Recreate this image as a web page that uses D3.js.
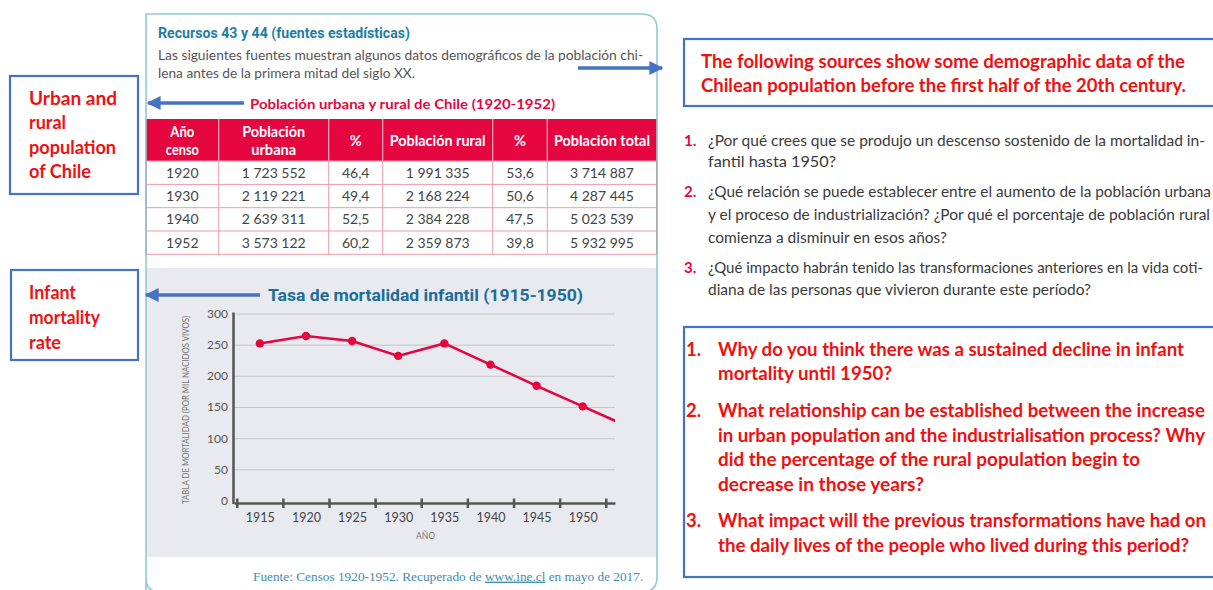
<!DOCTYPE html>
<html>
<head>
<meta charset="utf-8">
<script src="https://cdn.jsdelivr.net/npm/d3@7"></script>
<style>
body { margin: 0; background: #fff; }
svg { display: block; }
</style>
</head>
<body>
<div id="chart"></div>
<script>
// ---- data ----
var censusYears = [1920, 1930, 1940, 1952];
var urbanPop = [1723552, 2119221, 2639311, 3573122];
var urbanPct = [46.4, 49.4, 52.5, 60.2];
var ruralPop = [1991335, 2168224, 2384228, 2359873];
var ruralPct = [53.6, 50.6, 47.5, 39.8];
var totalPop = [3714887, 4287445, 5023539, 5932995];
var tableHeaders = [["Año", "censo"], ["Población", "urbana"], ["%"], ["Población rural"], ["%"], ["Población total"]];

var mortYears = [1915, 1920, 1925, 1930, 1935, 1940, 1945, 1950, 1955];
var mortRate = [252, 264, 256, 232, 252, 218, 184, 151, 118];
var yTicks = [0, 50, 100, 150, 200, 250, 300];
var xLabels = [1915, 1920, 1925, 1930, 1935, 1940, 1945, 1950];
var xEdges = [1912.5, 1917.5, 1922.5, 1927.5, 1932.5, 1937.5, 1942.5, 1947.5, 1952.5];

var cardTitle = "Recursos 43 y 44 (fuentes estadísticas)";
var cardIntro = ["Las siguientes fuentes muestran algunos datos demográficos de la población chi-",
                 "lena antes de la primera mitad del siglo XX."];
var tableTitle = "Población urbana y rural de Chile (1920-1952)";
var chartTitle = "Tasa de mortalidad infantil (1915-1950)";
var yTitle = "TABLA DE MORTALIDAD (POR MIL NACIDOS VIVOS)";
var xTitle = "AÑO";
var sourceParts = ["Fuente: Censos 1920-1952. Recuperado de ", "www.ine.cl", " en mayo de 2017."];

var esQuestions = [
    ["¿Por qué crees que se produjo un descenso sostenido de la mortalidad in-", "fantil hasta 1950?"],
    ["¿Qué relación se puede establecer entre el aumento de la población urbana",
     "y el proceso de industrialización? ¿Por qué el porcentaje de población rural",
     "comienza a disminuir en esos años?"],
    ["¿Qué impacto habrán tenido las transformaciones anteriores en la vida coti-",
     "diana de las personas que vivieron durante este período?"]
];
var enIntro = ["The following sources show some demographic data of the",
               "Chilean population before the first half of the 20th century."];
var enQuestions = [
    ["Why do you think there was a sustained decline in infant", "mortality until 1950?"],
    ["What relationship can be established between the increase",
     "in urban population and the industrialisation process? Why",
     "did the percentage of the rural population begin to",
     "decrease in those years?"],
    ["What impact will the previous transformations have had on",
     "the daily lives of the people who lived during this period?"]
];
var noteUrban = ["Urban and", "rural", "population", "of Chile"];
var noteInfant = ["Infant", "mortality", "rate"];

// ---- layout ----
var W = 1213, H = 590;
var RED = "#e5053f", TEAL = "#1f7ea3", BLUE = "#4472c4", NOTE = "#f01010";
var myriad = "Lato, 'Open Sans', sans-serif";

var svg = d3.select("#chart").append("svg")
    .attr("width", W)
    .attr("height", H);

var defs = svg.append("defs");
defs.append("marker")
    .attr("id", "head")
    .attr("viewBox", "0 0 10 10")
    .attr("refX", 9).attr("refY", 5)
    .attr("markerWidth", 4).attr("markerHeight", 4)
    .attr("orient", "auto-start-reverse")
    .append("path")
    .attr("d", "M0,0 L10,5 L0,10 z")
    .attr("fill", BLUE);

function text(g, x, y, s, o) {
    o = o || {};
    var t = g.append("text")
        .attr("x", x).attr("y", y)
        .attr("dy", "0.35em")
        .attr("font-family", o.font || myriad)
        .attr("font-size", o.size || 14)
        .attr("font-weight", o.weight || 400)
        .attr("fill", o.fill || "#333")
        .attr("text-anchor", o.anchor || "start")
        .text(s);
    if (o.w) t.attr("textLength", o.w).attr("lengthAdjust", "spacingAndGlyphs");
    return t;
}

// ---- card ----
var card = svg.append("g");
card.append("rect")
    .attr("x", 146).attr("y", 268).attr("width", 511).attr("height", 289)
    .attr("fill", "#e9eaef");

text(card, 158, 33, cardTitle, {font: "Roboto, sans-serif", weight: 700, size: 15, fill: TEAL, w: 252});
var introW = [485, 257];
cardIntro.forEach(function(s, i) {
    text(card, 158, 55 + i * 18, s, {size: 14, fill: "#555", w: introW[i]});
});
text(card, 250, 104, tableTitle, {weight: 700, size: 14, fill: RED, w: 305});

// table
var colEdges = [146, 218.7, 328.7, 382.7, 492.7, 547.3, 656.7];
var rowEdges = [119, 161, 184.4, 207.7, 231, 254.3];
var headerW = [[24, 33], [63, 45], [12], [96], [12], [96]];
var loc = d3.formatLocale({decimal: ",", thousands: " ", grouping: [3], currency: ["", ""]});
var fmtPop = loc.format(",d"), fmtPct = loc.format(".1f");
var rows = censusYears.map(function(y, i) {
    return [String(y), fmtPop(urbanPop[i]), fmtPct(urbanPct[i]), fmtPop(ruralPop[i]),
            fmtPct(ruralPct[i]), fmtPop(totalPop[i])];
});

var table = card.append("g");
table.append("rect")
    .attr("x", colEdges[0]).attr("y", rowEdges[0])
    .attr("width", colEdges[6] - colEdges[0]).attr("height", rowEdges[1] - rowEdges[0])
    .attr("fill", RED);
table.selectAll("line.h")
    .data(rowEdges.slice(1))
    .enter().append("line")
    .attr("x1", colEdges[0]).attr("x2", colEdges[6])
    .attr("y1", function(d) { return d; }).attr("y2", function(d) { return d; })
    .attr("stroke", "#f199ab").attr("stroke-width", 1);
table.selectAll("line.v")
    .data(colEdges)
    .enter().append("line")
    .attr("x1", function(d) { return d; }).attr("x2", function(d) { return d; })
    .attr("y1", rowEdges[0]).attr("y2", rowEdges[5])
    .attr("stroke", function(d, i) { return (i == 0 || i == 6) ? RED : "#f199ab"; })
    .attr("stroke-width", 1);
table.selectAll("line.vh")
    .data(colEdges.slice(1, 6))
    .enter().append("line")
    .attr("x1", function(d) { return d; }).attr("x2", function(d) { return d; })
    .attr("y1", rowEdges[0]).attr("y2", rowEdges[1])
    .attr("stroke", "#f4a4b6").attr("stroke-width", 1);

tableHeaders.forEach(function(h, c) {
    var cx = (colEdges[c] + colEdges[c + 1]) / 2;
    h.forEach(function(s, k) {
        var y = h.length == 1 ? 140.5 : 131.5 + k * 18;
        text(table, cx, y, s, {weight: 700, size: 14.5, fill: "#fff", anchor: "middle", w: headerW[c][k]});
    });
});
rows.forEach(function(r, i) {
    var cy = (rowEdges[i + 1] + rowEdges[i + 2]) / 2;
    r.forEach(function(s, c) {
        text(table, (colEdges[c] + colEdges[c + 1]) / 2, cy, s, {size: 14, fill: "#444", anchor: "middle"});
    });
});

// ---- infant mortality chart ----
text(card, 268, 295, chartTitle, {font: "Roboto, sans-serif", weight: 700, size: 17, fill: "#1b6e98", w: 315});

var x = d3.scaleLinear().domain([1912.2, 1953.5]).range([234, 615]);
var y = d3.scaleLinear().domain([0, 300]).range([500.5, 313.5]);

var plot = card.append("g");
plot.append("g")
    .attr("transform", "translate(234,0)")
    .call(d3.axisLeft(y).tickValues(yTicks.slice(1)).tickSize(-(615 - 234)).tickFormat(""))
    .call(function(g) { g.select(".domain").remove(); })
    .selectAll("line").attr("stroke", "#c4c5cb").attr("stroke-width", 1);

plot.append("g")
    .attr("transform", "translate(228,0)")
    .call(d3.axisLeft(y).tickValues(yTicks).tickSize(0).tickPadding(0))
    .call(function(g) { g.select(".domain").remove(); })
    .selectAll("text")
    .attr("font-family", myriad).attr("font-size", 12).attr("fill", "#555");

var xa = plot.append("g")
    .attr("transform", "translate(0," + (y(0) + 2.5) + ")")
    .call(d3.axisBottom(x).tickValues(xEdges).tickSizeOuter(0).tickFormat(""));
xa.select(".domain").attr("stroke", "#555").attr("stroke-width", 2.5);
xa.selectAll(".tick line").attr("y1", -4.5).attr("y2", 5).attr("stroke", "#555").attr("stroke-width", 2.5);

plot.append("g")
    .attr("transform", "translate(0," + (y(0) + 2.5) + ")")
    .call(d3.axisBottom(x).tickValues(xLabels).tickSize(0).tickPadding(10).tickFormat(d3.format("d")))
    .call(function(g) { g.select(".domain").remove(); })
    .selectAll("text")
    .attr("font-family", myriad).attr("font-size", 12.5).attr("fill", "#444");

plot.append("line")
    .attr("x1", x(1912.2) - 0.5).attr("x2", x(1912.2) - 0.5)
    .attr("y1", y(300) - 1).attr("y2", y(0) + 3.5)
    .attr("stroke", "#555").attr("stroke-width", 2.5);

text(plot, 0, 0, yTitle, {size: 8.5, fill: "#777", anchor: "middle", w: 188})
    .attr("transform", "translate(186," + 410 + ") rotate(-90)");
text(plot, 425.5, 536.5, xTitle, {size: 8.5, fill: "#777", anchor: "middle"});

defs.append("clipPath").attr("id", "plotclip")
    .append("rect").attr("x", 234).attr("y", 300).attr("width", 615 - 234).attr("height", 220);

var mort = mortYears.map(function(d, i) { return {year: d, rate: mortRate[i]}; });
var series = plot.append("g").attr("clip-path", "url(#plotclip)");
series.append("path")
    .datum(mort)
    .attr("d", d3.line().x(function(d) { return x(d.year); }).y(function(d) { return y(d.rate); }))
    .attr("fill", "none")
    .attr("stroke", RED)
    .attr("stroke-width", 2.6);
series.selectAll("circle")
    .data(mort)
    .enter().append("circle")
    .attr("cx", function(d) { return x(d.year); })
    .attr("cy", function(d) { return y(d.rate); })
    .attr("r", 4.2)
    .attr("fill", RED);

// source line (one text, link part underlined)
var src = text(card, 253, 576, "", {font: "'Liberation Serif', serif", size: 13.3, fill: "#3f8db0"});
sourceParts.forEach(function(s, i) {
    var ts = src.append("tspan").text(s);
    if (i == 1) ts.attr("text-decoration", "underline");
});

// card border
card.append("path")
    .attr("d", "M146,604 L146,14 L642,14 Q657,14 657,29 L657,577 Q657,592 642,592 L160,592 Q146,592 146,578")
    .attr("fill", "none")
    .attr("stroke", "#92c9d8")
    .attr("stroke-width", 1.6);

// ---- annotations ----
var notes = svg.append("g");
function arrow(x1, y1, x2, y2) {
    notes.append("line")
        .attr("x1", x1).attr("y1", y1).attr("x2", x2).attr("y2", y2)
        .attr("stroke", BLUE).attr("stroke-width", 3.5)
        .attr("marker-end", "url(#head)");
}
arrow(578, 68, 662, 68);
arrow(244, 103, 148, 103);
arrow(260, 295, 146, 295);

function box(x0, y0, w, h) {
    notes.append("rect")
        .attr("x", x0).attr("y", y0).attr("width", w).attr("height", h)
        .attr("fill", "#fff").attr("stroke", BLUE).attr("stroke-width", 2.2);
}
var futura = "Lato, 'Noto Sans', sans-serif";
box(10, 76, 128, 118);
var urbanW = [88, 37, 87, 62];
noteUrban.forEach(function(s, i) {
    text(notes, 29, 98 + i * 24.5, s, {font: futura, weight: 700, size: 19, fill: NOTE, w: urbanW[i]});
});
box(11, 270, 127, 90);
var infantW = [47, 71, 32];
noteInfant.forEach(function(s, i) {
    text(notes, 29, 292 + i * 25, s, {font: futura, weight: 700, size: 19, fill: NOTE, w: infantW[i]});
});

box(684, 39, 540, 67);
var introEnW = [484, 485];
enIntro.forEach(function(s, i) {
    text(notes, 701, 62 + i * 24, s, {font: futura, weight: 700, size: 18.5, fill: NOTE, w: introEnW[i]});
});

// spanish questions
var esY = [[141, 162], [192, 215, 238], [268, 290]];
var esW = [[497, 128], [503, 502, 239], [495, 383]];
esQuestions.forEach(function(q, i) {
    text(notes, 684, esY[i][0], (i + 1) + ".", {weight: 700, size: 15, fill: RED});
    q.forEach(function(s, k) {
        text(notes, 708, esY[i][k], s, {size: 15, fill: "#3a3a3a", w: esW[i][k]});
    });
});

// english questions
box(684, 327, 540, 250);
var enY = [[350, 374], [411, 435.5, 460, 484.5], [521, 545.5]];
var enW = [[466, 174], [487, 487, 422, 206], [488, 471]];
enQuestions.forEach(function(q, i) {
    text(notes, 686, enY[i][0], (i + 1) + ".", {font: futura, weight: 700, size: 18.5, fill: NOTE});
    q.forEach(function(s, k) {
        text(notes, 718, enY[i][k], s, {font: futura, weight: 700, size: 18.5, fill: NOTE, w: enW[i][k]});
    });
});
</script>
</body>
</html>
